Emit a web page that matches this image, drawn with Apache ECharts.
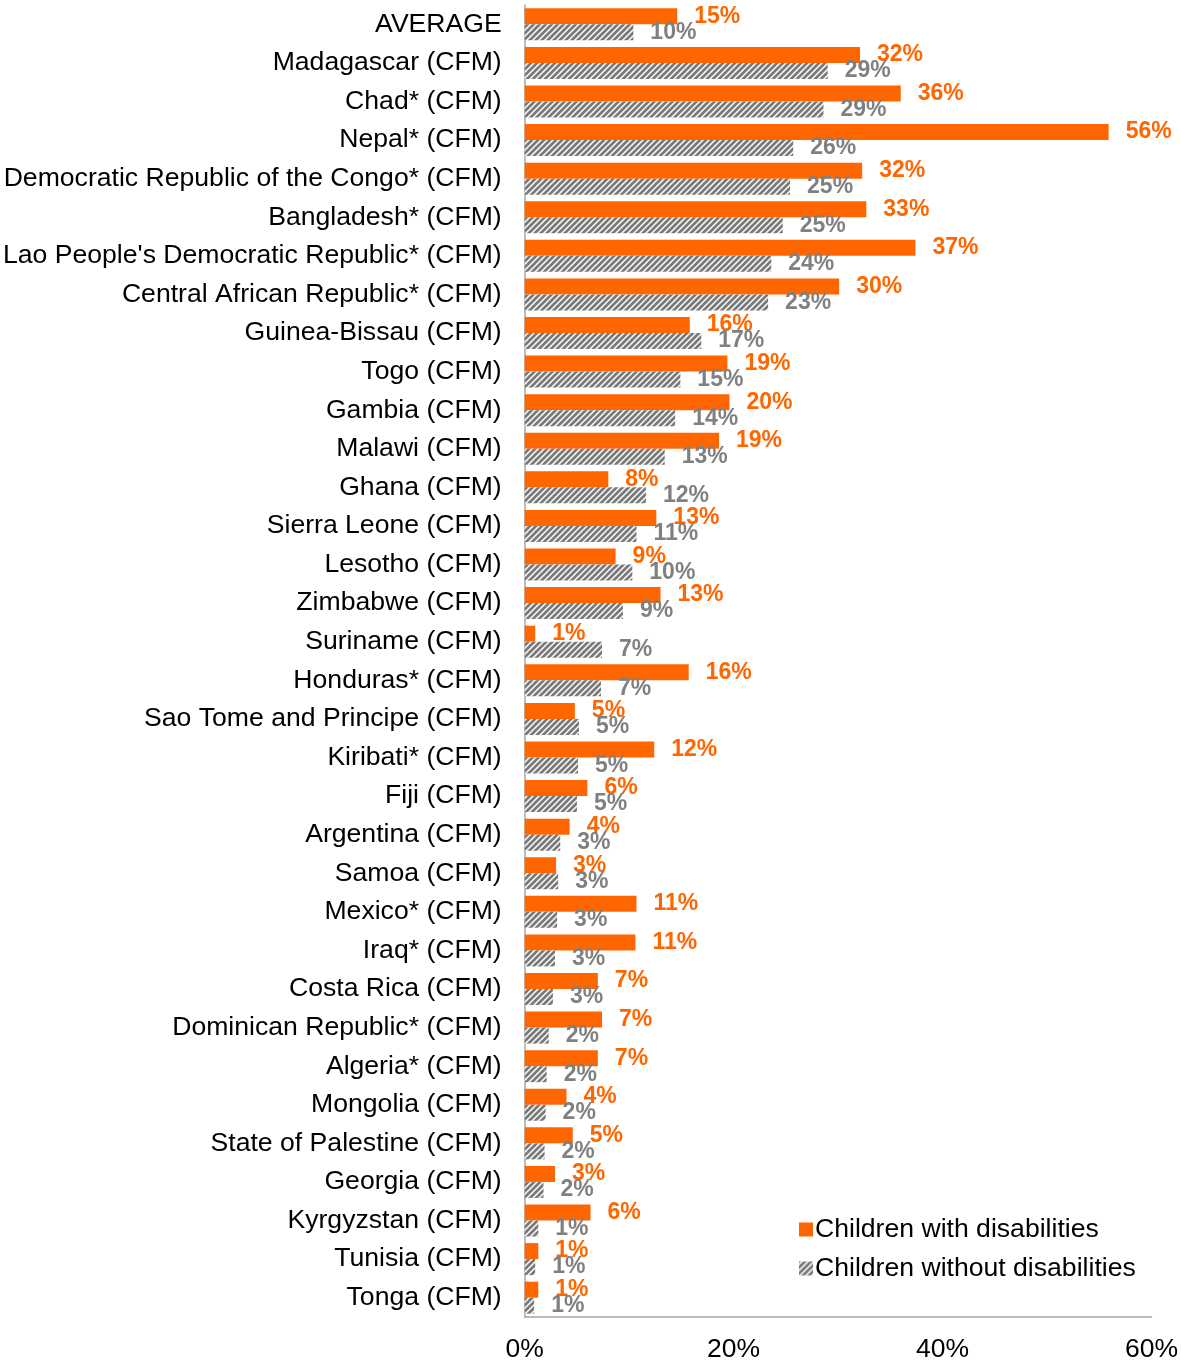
<!DOCTYPE html>
<html><head><meta charset="utf-8">
<script src="https://cdn.jsdelivr.net/npm/echarts@6/dist/echarts.min.js"></script>
<style>html,body{margin:0;padding:0;background:#fff}#c{width:1181px;height:1363px}</style>
</head><body><div id="c"></div>
<script>
const categories = ["AVERAGE","Madagascar (CFM)","Chad* (CFM)","Nepal* (CFM)","Democratic Republic of the Congo* (CFM)","Bangladesh* (CFM)","Lao People's Democratic Republic* (CFM)","Central African Republic* (CFM)","Guinea-Bissau (CFM)","Togo (CFM)","Gambia (CFM)","Malawi (CFM)","Ghana (CFM)","Sierra Leone (CFM)","Lesotho (CFM)","Zimbabwe (CFM)","Suriname (CFM)","Honduras* (CFM)","Sao Tome and Principe (CFM)","Kiribati* (CFM)","Fiji (CFM)","Argentina (CFM)","Samoa (CFM)","Mexico* (CFM)","Iraq* (CFM)","Costa Rica (CFM)","Dominican Republic* (CFM)","Algeria* (CFM)","Mongolia (CFM)","State of Palestine (CFM)","Georgia (CFM)","Kyrgyzstan (CFM)","Tunisia (CFM)","Tonga (CFM)"];
const withDisabilities = [14.6,32.1,36.0,55.9,32.3,32.7,37.4,30.1,15.8,19.4,19.6,18.6,8.0,12.6,8.7,13.0,1.0,15.7,4.8,12.4,6.0,4.3,3.0,10.7,10.6,7.0,7.4,7.0,4.0,4.6,2.9,6.3,1.3,1.3];
const withoutDisabilities = [10.4,29.0,28.6,25.7,25.4,24.7,23.6,23.3,16.9,14.9,14.4,13.4,11.6,10.7,10.3,9.4,7.4,7.3,5.2,5.1,5.0,3.4,3.2,3.1,2.9,2.7,2.3,2.1,2.0,1.9,1.8,1.3,1.0,0.9];
const seriesNames = ["Children with disabilities","Children without disabilities"];
const xTicks = {min:0, max:60, interval:20};

const FONT = "'Liberation Sans', Arial, sans-serif";
function hatch(){
  const c = document.createElement('canvas');
  c.width = 6; c.height = 6;
  const g = c.getContext('2d');
  g.fillStyle = '#ffffff'; g.fillRect(0,0,6,6);
  g.strokeStyle = '#7a7a7a'; g.lineWidth = 2.8;
  g.beginPath();
  g.moveTo(-1,7); g.lineTo(7,-1);
  g.moveTo(-4,4); g.lineTo(4,-4);
  g.moveTo(2,10); g.lineTo(10,2);
  g.stroke();
  return {image: c, repeat: 'repeat'};
}
const chart = echarts.init(document.getElementById('c'), null, {renderer:'canvas'});
const lbl = (color) => ({show:true, position:'right', distance:17, color:color, fontWeight:'bold', fontSize:23, fontFamily:FONT,
  formatter: p => Math.round(p.value) + '%'});
chart.setOption({
  animation:false,
  textStyle:{fontFamily:FONT},
  grid:{left:524, right:19, top:5, bottom:44, containLabel:false},
  legend:{orient:'vertical', left:794, top:1211, itemWidth:14, itemHeight:14, itemGap:12,
    textStyle:{fontSize:26.6, color:'#000', fontFamily:FONT, padding:[0,0,0,-3]}, data:seriesNames, icon:'rect'},
  xAxis:{type:'value', min:xTicks.min, max:xTicks.max, interval:xTicks.interval,
    axisLine:{show:true, lineStyle:{color:'#a6a6a6', width:1.5}}, axisTick:{show:false}, splitLine:{show:false},
    axisLabel:{formatter:'{value}%', fontSize:26.5, color:'#000', margin:19, fontFamily:FONT}},
  yAxis:{type:'category', data:categories, inverse:true,
    axisLine:{show:true, lineStyle:{color:'#a6a6a6', width:1.5}}, axisTick:{show:false},
    axisLabel:{fontSize:26.6, color:'#000', margin:23, fontFamily:FONT, interval:0}},
  series:[
    {name:seriesNames[0], type:'bar', data:withDisabilities, barWidth:16, barGap:'0%',
      itemStyle:{color:'#ff6600'}, label:lbl('#ff6600')},
    {name:seriesNames[1], type:'bar', data:withoutDisabilities, barWidth:16, barGap:'0%',
      itemStyle:{color:hatch()}, label:lbl('#808080')}
  ]
});
</script></body></html>
